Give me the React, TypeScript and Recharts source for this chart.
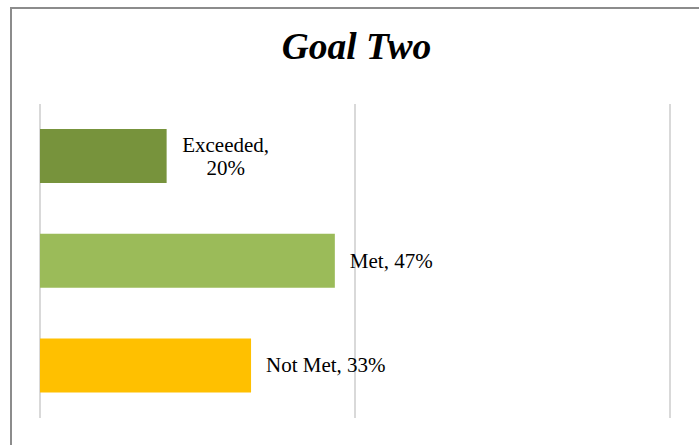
import { BarChart, Bar, XAxis, YAxis, CartesianGrid, Cell, LabelList } from "recharts";

const categories = ["Exceeded", "Met", "Not Met"];
// bar lengths as drawn, and the rounded percentages printed in the labels
const percentages = [20.1, 46.8, 33.5];
const labelPercents = [20, 47, 33];
const barColors = ["#77933c", "#9bbb59", "#ffc000"];
const axisTicks = [0, 50, 100];
// labels that Excel wrapped onto two lines
const wrappedLabels = ["Exceeded"];

const data = categories.map((name, i) => ({ name, value: percentages[i] }));

const FONT = "'Liberation Serif', 'Times New Roman', serif";

function BarLabel(props: any) {
  const { x, y, width, height, index } = props;
  const name = categories[index];
  const val = labelPercents[index];
  const cy = y + height / 2;
  const startX = x + width + 15;
  if (wrappedLabels.includes(name)) {
    const cx = startX + 44;
    return (
      <text x={cx} y={cy} textAnchor="middle" fontFamily={FONT} fontSize={21} fill="#000">
        <tspan x={cx} dy={-4}>{name},</tspan>
        <tspan x={cx} dy={23}>{val}%</tspan>
      </text>
    );
  }
  return (
    <text x={startX} y={cy + 7} fontFamily={FONT} fontSize={21} fill="#000">
      {`${name}, ${val}%`}
    </text>
  );
}

// axis labels are hidden in the original, but the ticks must exist for the grid
const NoTick = () => <g />;

export default function App() {
  return (
    <div style={{ position: "absolute", left: 0, top: 0, width: 699, height: 445, overflow: "hidden", background: "#fff" }}>
      {/* chart area border, runs off the right and bottom edges */}
      <div
        style={{
          position: "absolute",
          left: 10,
          top: 7,
          width: 720,
          height: 470,
          border: "2px solid #8c8c8c",
        }}
      />
      <svg style={{ position: "absolute", left: 0, top: 0 }} width={699} height={100}>
        <text
          x={356.5}
          y={59}
          textAnchor="middle"
          fontFamily={FONT}
          fontWeight="bold"
          fontStyle="italic"
          fontSize={37.5}
          fill="#000"
        >
          Goal Two
        </text>
      </svg>
      <div style={{ position: "absolute", left: 0, top: 0 }}>
        <BarChart
          width={699}
          height={445}
          data={data}
          layout="vertical"
          margin={{ top: 104, right: 29, bottom: 27, left: 40 }}
          barCategoryGap="24%"
        >
          <CartesianGrid horizontal={false} stroke="#d9d9d9" strokeWidth={2} />
          <XAxis
            type="number"
            domain={[0, 100]}
            ticks={axisTicks}
            interval={0}
            height={0}
            tick={NoTick}
            axisLine={false}
            tickLine={false}
          />
          <YAxis type="category" dataKey="name" width={0} tick={false} axisLine={false} tickLine={false} />
          <Bar dataKey="value" isAnimationActive={false}>
            {data.map((d, i) => (
              <Cell key={d.name} fill={barColors[i]} />
            ))}
            <LabelList dataKey="value" content={BarLabel} />
          </Bar>
        </BarChart>
      </div>
    </div>
  );
}
